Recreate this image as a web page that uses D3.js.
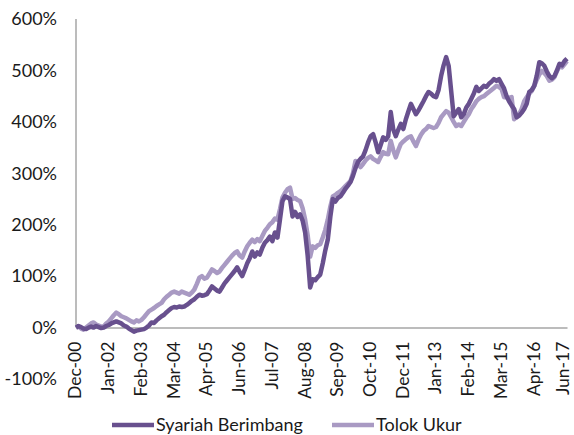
<!DOCTYPE html>
<html>
<head>
<meta charset="utf-8">
<script src="https://cdn.jsdelivr.net/npm/d3@7"></script>
<style>
  body { margin: 0; background: #fff; }
  text { font-family: Lato, "Open Sans", sans-serif; fill: #1a1a1a; }
</style>
</head>
<body>
<script>
// Tick labels on the category axis (every 13th point)
const tickLabels = ["Dec-00", "Jan-02", "Feb-03", "Mar-04", "Apr-05", "Jun-06", "Jul-07", "Aug-08",
  "Sep-09", "Oct-10", "Dec-11", "Jan-13", "Feb-14", "Mar-15", "Apr-16", "Jun-17"];
const yTicks = [-100, 0, 100, 200, 300, 400, 500, 600];
const seriesNames = ["Syariah Berimbang", "Tolok Ukur"];

// cumulative return, % (monthly)
const syariah = [
  0, 3, 1, -2, -3, 0, 2, 0, 3, 1, -1, 0, 3,
  5, 8, 10, 12, 10, 8, 4, 2, -2, -5, -8, -6, -5,
  -4, -3, 0, 4, 10, 9, 14, 18, 22, 25, 30, 34, 38,
  40, 39, 41, 40, 41, 44, 48, 52, 55, 60, 64, 62, 63,
  65, 72, 80, 76, 72, 70, 78, 86, 92, 98, 104, 110, 117,
  108, 100, 112, 125, 135, 148, 138, 146, 142, 155, 165, 170, 177,
  168, 185, 175, 210, 246, 255, 253, 250, 216, 225, 215, 220, 208,
  185, 140, 78, 94, 92, 98, 103, 125, 150, 171, 215, 250, 245,
  252, 255, 262, 270, 276, 283, 295, 310, 322, 328, 333, 345, 360,
  372, 376, 360, 341, 355, 370, 365, 372, 419, 385, 372, 385, 396,
  386, 405, 420, 435, 425, 415, 422, 431, 440, 450, 458, 455, 450,
  448, 462, 489, 510, 526, 509, 460, 411, 418, 425, 409, 415, 428,
  435, 445, 455, 468, 460, 465, 470, 468, 474, 478, 483, 480, 483,
  474, 465, 450, 440, 432, 425, 409, 412, 418, 425, 435, 458, 462,
  470, 490, 516, 514, 509, 498, 489, 485, 489, 500, 513, 510, 518,
  523
];
const tolok = [
  0, 2, -2, -4, 0, 4, 8, 10, 6, 4, 2, 2, 8,
  12, 18, 24, 29, 26, 22, 20, 18, 15, 12, 10, 14, 12,
  15, 20, 26, 32, 35, 38, 42, 45, 48, 55, 60, 64, 68,
  70, 68, 66, 70, 68, 66, 64, 68, 74, 85, 97, 100, 95,
  97, 105, 113, 110, 106, 109, 116, 122, 128, 134, 140, 145, 148,
  140, 136, 148, 158, 165, 171, 166, 172, 168, 178, 188, 194, 201,
  205, 212, 210, 230, 253, 262, 269, 272, 250, 252, 248, 246, 232,
  210, 180, 138, 158, 155, 160, 162, 175, 190, 210, 235, 255, 258,
  262, 265, 270, 275, 280, 285, 300, 324, 318, 312, 318, 325, 330,
  333, 328, 325, 322, 332, 341, 338, 337, 363, 345, 331, 345, 357,
  362, 366, 370, 372, 362, 353, 365, 375, 382, 386, 392, 390, 388,
  390, 398, 409, 415, 421, 418, 409, 400, 392, 395, 392, 400, 408,
  415, 425, 432, 440, 445, 448, 450, 454, 458, 462, 466, 470, 468,
  464, 448, 448, 446, 448, 405, 410, 415, 425, 440, 448, 455, 460,
  470, 482, 492, 499, 495, 489, 480, 482, 487, 498, 509, 506, 512,
  518
];

const colors = ["#68508e", "#a99ac3"];
const w = 574, h = 435;

const svg = d3.select("body").append("svg").attr("width", w).attr("height", h);

const x = d3.scaleLinear().domain([0, syariah.length - 1]).range([76, 567]);
const y = d3.scaleLinear().domain([-100, 600]).range([379, 19]);

// y axis
const yAxis = svg.append("g")
  .attr("transform", `translate(${x(0)},0)`)
  .call(d3.axisLeft(y).tickValues(yTicks).tickSize(0).tickPadding(19).tickFormat(d => d + "%"));
yAxis.select(".domain").remove();
yAxis.selectAll("text").style("font-size", "18px").style("font-family", null);

svg.append("line")
  .attr("x1", x(0)).attr("x2", x(0))
  .attr("y1", y(600)).attr("y2", y(0))
  .attr("stroke", "#a6a6a6").attr("stroke-width", 1.5);

// x axis at 0%
const xAxis = svg.append("g")
  .attr("transform", `translate(0,${y(0)})`)
  .call(d3.axisBottom(x)
    .tickValues(tickLabels.map((d, i) => i * 13))
    .tickSize(0)
    .tickFormat((d, i) => tickLabels[i]));
xAxis.select(".domain").attr("stroke", "#a6a6a6").attr("stroke-width", 1.5);
xAxis.selectAll("text")
  .style("font-size", "17.5px").style("font-family", null)
  .attr("text-anchor", "end")
  .attr("transform", "rotate(-90)")
  .attr("x", -14)
  .attr("y", 0)
  .attr("dy", (d, i) => i === tickLabels.length - 1 ? "0.1em" : "0.28em");

// lines
const line = d3.line().x((d, i) => x(i)).y(d => y(d));
[tolok, syariah].forEach((s, k) => {
  svg.append("path")
    .datum(s)
    .attr("d", line)
    .attr("fill", "none")
    .attr("stroke", colors[1 - k])
    .attr("stroke-width", 4.5)
    .attr("stroke-linejoin", "round");
});

// legend
const legend = [{ x: 112, name: seriesNames[0], c: colors[0] }, { x: 332, name: seriesNames[1], c: colors[1] }];
legend.forEach(l => {
  svg.append("line")
    .attr("x1", l.x).attr("x2", l.x + 42)
    .attr("y1", 425).attr("y2", 425)
    .attr("stroke", l.c).attr("stroke-width", 4.5);
  svg.append("text")
    .attr("x", l.x + 44).attr("y", 425).attr("dy", "0.35em")
    .style("font-size", "18px")
    .text(l.name);
});
</script>
</body>
</html>
